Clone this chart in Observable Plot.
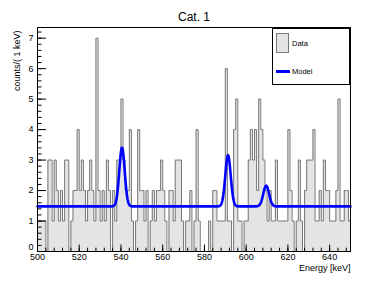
<!DOCTYPE html>
<html><head><meta charset="utf-8">
<script src="https://cdn.jsdelivr.net/npm/d3@7"></script>
<script src="https://cdn.jsdelivr.net/npm/@observablehq/plot@0.6"></script>
<style>
body{margin:0;background:#fff;}
#wrap{position:relative;width:390px;height:281px;font-family:"Liberation Sans",Arial,Helvetica,sans-serif;color:#000;}
#legend{position:absolute;left:272px;top:28px;width:78px;height:57px;border:1px solid #000;background:#fff;box-sizing:border-box;}
.sw{position:absolute;left:3px;top:4px;width:13px;height:20px;background:#e4e4e4;border:1px solid #777;box-sizing:border-box;}
.ln{position:absolute;left:3px;top:41px;width:14px;height:2.6px;background:#0000ff;}
.lt{position:absolute;left:19px;font-size:7.5px;line-height:1;}
</style></head><body>
<div id="wrap">
  <div id="legend">
    <div class="sw"></div><div class="lt" style="top:11px">Data</div>
    <div class="ln"></div><div class="lt" style="top:38.5px">Model</div>
  </div>
</div>
<script>
// Bin lower edges (keV), 1 keV bins
const binEdges = d3.range(500, 650);
// Counts per bin
const counts = [
  1,1,1,1,0,3,3,1,3,2, 1,2,1,3,3,0,1,2,2,4,
  2,3,2,1,2,3,2,1,7,2, 1,2,1,3,2,0,2,1,3,3,
  5,3,2,2,4,1,0,1,4,2, 2,1,2,0,1,2,1,2,2,3,
  2,1,0,2,2,1,3,3,3,1, 0,1,1,2,0,1,4,1,0,0,
  0,0,1,0,2,2,1,1,1,1, 6,1,1,0,4,5,1,1,0,1,
  1,3,4,3,4,2,5,4,3,2, 1,2,1,1,3,1,1,1,1,1,
  4,2,1,0,1,3,1,0,2,3, 3,3,4,1,1,2,1,3,2,2,
  1,1,1,2,5,1,1,2,2,1
];
// Model: flat background plus three Gaussian peaks (parameters)
const background = 1.48;
const peakCenters = [540.5, 591.3, 609.6];
const peakAmplitudes = [1.93, 1.68, 0.68];
const peakSigmas = [1.3, 1.3, 1.4];

const xTicks = [500, 520, 540, 560, 580, 600, 620, 640];
const xMinorTicks = d3.range(500, 651, 4);
const yTicks = [0, 1, 2, 3, 4, 5, 6, 7];
const yMinorTicks = d3.range(0, 7.35, 0.2);

const bins = binEdges.map((e, i) => ({x0: e, v: counts[i]}));
const outline = [{x: 500, y: 0}, ...bins.map(b => ({x: b.x0, y: b.v})),
  {x: 650, y: counts[counts.length - 1]}, {x: 650, y: 0}];
const model = d3.range(500, 650.001, 0.2).map(e => ({e, m: background + peakCenters.reduce((s, c, k) =>
  s + peakAmplitudes[k] * Math.exp(-((e - c) ** 2) / (2 * peakSigmas[k] ** 2)), 0)}));

const chart = Plot.plot({
  width: 390, height: 281,
  marginLeft: 37, marginRight: 40, marginTop: 27, marginBottom: 30,
  style: {fontFamily: '"Liberation Sans", Arial, Helvetica, sans-serif', fontSize: "9px", background: "#fff", color: "#000", overflow: "visible"},
  x: {domain: [500, 650]},
  y: {domain: [0, 7.35]},
  marks: [
    Plot.areaY(outline, {x: "x", y: "y", curve: "step-after", fill: "#e4e4e4"}),
    Plot.line(outline, {x: "x", y: "y", curve: "step-after", stroke: "#777", strokeWidth: 1}),
    Plot.line(model, {x: "e", y: "m", stroke: "#0000ff", strokeWidth: 2.6}),
    Plot.frame({stroke: "#000"}),
    Plot.axisY({ticks: yTicks, tickSize: -9, fill: "none", label: null}),
    Plot.axisY({ticks: yMinorTicks, tickSize: -4.5, fill: "none", label: null}),
    Plot.axisY({ticks: yTicks.slice(1), tickSize: 0, tickPadding: 4, label: null}),
    Plot.axisY({ticks: yTicks.slice(0, 1), tickSize: 0, tickPadding: 4, dy: -4, label: null}),
    Plot.axisX({ticks: xTicks, tickSize: -6.5, fill: "none", label: null}),
    Plot.axisX({ticks: xMinorTicks, tickSize: -3.3, fill: "none", label: null}),
    Plot.axisX({ticks: xTicks, tickSize: 0, tickPadding: 2.5, label: null}),
    Plot.text(["Cat. 1"], {frameAnchor: "top", dy: -15, fontSize: 12}),
    Plot.text(["Energy [keV]"], {frameAnchor: "bottom-right", dy: 19.5, textAnchor: "end", fontSize: 9}),
    Plot.text(["counts/( 1 keV)"], {frameAnchor: "top-left", rotate: -90, textAnchor: "end", dx: -24, dy: 3, fontSize: 9})
  ]
});
document.getElementById("wrap").prepend(chart);
</script>
</body></html>
